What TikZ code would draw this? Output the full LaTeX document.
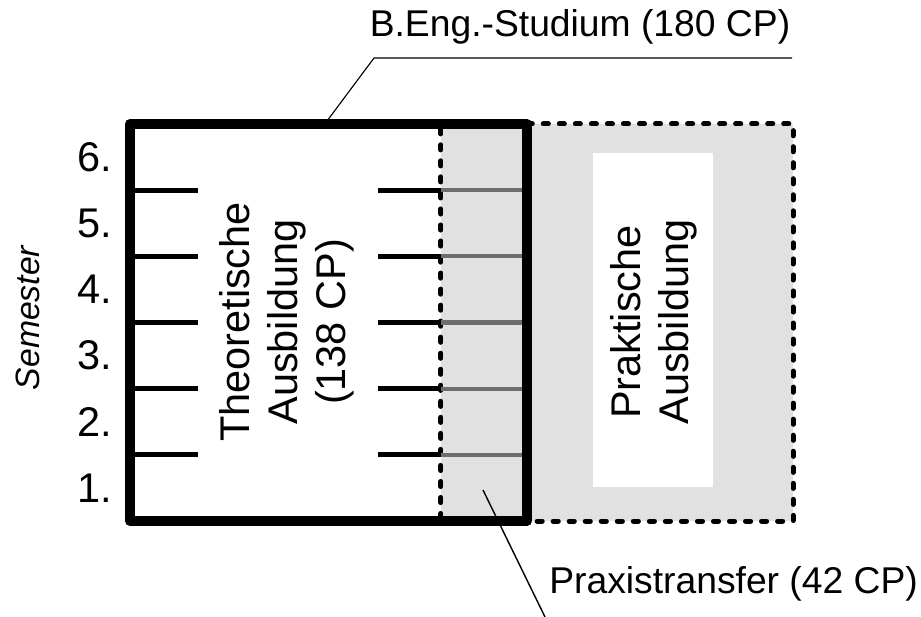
\documentclass[tikz,border=0pt]{standalone}
\usepackage{fontspec}
\setmainfont{Liberation Sans}
\usepackage{xcolor}
\usetikzlibrary{positioning}
\definecolor{PraxisGray}{RGB}{225,225,225}
\definecolor{TransferLine}{RGB}{110,110,110}
\tikzset{
  studybox/.style={draw=black, line width=7pt, line join=round, minimum width=9.925cm,
    minimum height=9.925cm, inner sep=0pt},
  praxisbox/.style={draw=black, line width=3.6pt, line cap=round, dash pattern=on 3.6pt off 7.8pt,
    fill=PraxisGray, minimum width=8.8cm, minimum height=9.925cm, inner sep=0pt},
  blankbox/.style={fill=white, minimum width=3cm, minimum height=8.35cm, inner sep=0pt},
  semtick/.style={line width=3.5pt},
  transfertick/.style={line width=3pt, TransferLine},
  semlabel/.style={anchor=east, inner sep=0pt, font=\fontsize{29.5}{34}\selectfont},
  blocklabel/.style={rotate=90, align=center, inner sep=0pt, font=\fontsize{29.5}{34}\selectfont},
  calllabel/.style={inner sep=0pt, font=\fontsize{26.5}{31}\selectfont},
  leader/.style={line width=1pt},
}

\begin{document}
\begin{tikzpicture}[x=0.025cm, y=-0.025cm]
  \useasboundingbox (0,0) rectangle (921,617);
  \node[praxisbox] (praxis) at (617,322.5) {};
  \node[blankbox] (praxisblank) at (653,320) {};
  \foreach \k in {1,...,5} {
    \draw[transfertick] (441,{521-66.17*\k}) -- (527,{521-66.17*\k});
  }
  \node[studybox] (theorie) at (328.5,322.5) {};
  \foreach \k in {1,...,5} {
    \draw[semtick] (130,{521-66.17*\k}) -- (198,{521-66.17*\k});
    \draw[semtick] (378,{521-66.17*\k}) -- (441,{521-66.17*\k});
  }
  \foreach \n in {1,...,6} {
    \node[semlabel] (sem\n) at (112,{521-66.17*(\n-0.5)}) {\n.};
  }
  \node[rotate=90, inner sep=0pt, font=\fontsize{24}{28}\selectfont\itshape] (semester) at (28,318) {Semester};
  \node[blocklabel] (theorielabel) at (287,322) {Theoretische\\Ausbildung\\(138 CP)};
  \node[blocklabel] (praxislabel) at (654,322) {Praktische\\Ausbildung};
  \node[calllabel, anchor=base] (studium) at (580,37) {B.Eng.-Studium (180 CP)};
  \node[calllabel, anchor=base west] (transfer) at (549,593) {Praxistransfer (42 CP)};
  \coordinate (studiumknick) at (374,58);
  \coordinate (studiumend) at (792,58);
  \coordinate (transferpt) at (483,490);
  \coordinate (transferend) at (545,617);
  \draw[leader, line width=0.8pt] (theorie.north) -- (studiumknick) -- (studiumend);
  \draw[leader] (transferpt) -- (transferend);
\end{tikzpicture}
\end{document}
